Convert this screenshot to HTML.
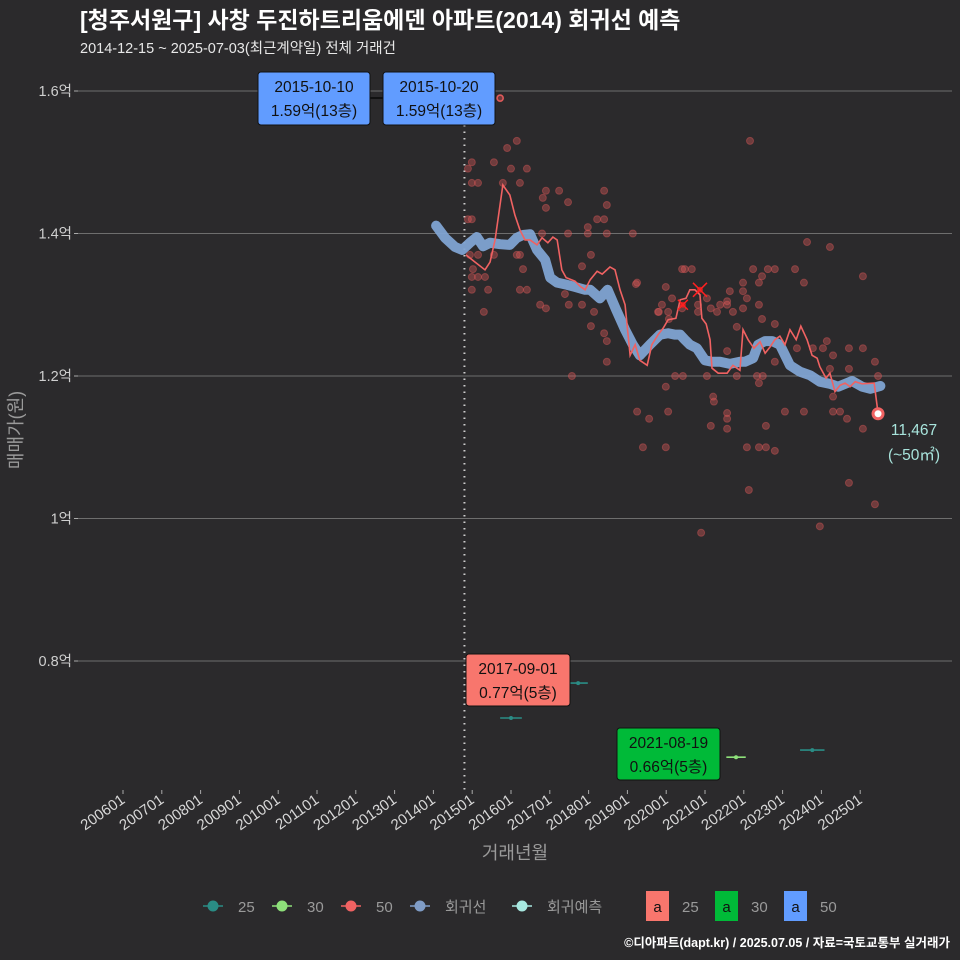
<!DOCTYPE html>
<html><head><meta charset="utf-8">
<style>
html,body{margin:0;padding:0;background:#2b2a2c;}
svg{display:block;font-family:"Liberation Sans","Noto Sans CJK KR",sans-serif;}
</style></head>
<body>
<svg id="chart" width="960" height="960" viewBox="0 0 960 960">
<rect width="960" height="960" fill="#2b2a2c"/>
<text x="80" y="28" fill="#ffffff" font-size="23" font-weight="bold">[청주서원구] 사창 두진하트리움에덴 아파트(2014) 회귀선 예측</text>
<text x="80" y="53" fill="#e8e8e8" font-size="14.5">2014-12-15 ~ 2025-07-03(최근계약일) 전체 거래건</text>
<g id="grid"></g>
<g id="xaxis"></g>
<g id="marks"></g>
<text x="515" y="859" fill="#9a9a9a" font-size="18" text-anchor="middle">거래년월</text>
<text transform="translate(22,430) rotate(-90)" fill="#9a9a9a" font-size="18" text-anchor="middle">매매가(원)</text>
<g id="legend"></g>
<text x="950" y="947" fill="#ffffff" font-size="12.5" font-weight="bold" text-anchor="end">©디아파트(dapt.kr) / 2025.07.05 / 자료=국토교통부 실거래가</text>
</svg>
<script>
const yTicks=[1.6,1.4,1.2,1.0,0.8];
const yTickLabels=["1.6억","1.4억","1.2억","1억","0.8억"];
const xTickYears=[2006,2007,2008,2009,2010,2011,2012,2013,2014,2015,2016,2017,2018,2019,2020,2021,2022,2023,2024,2025];
const xTickLabels=["200601","200701","200801","200901","201001","201101","201201","201301","201401","201501","201601","201701","201801","201901","202001","202101","202201","202301","202401","202501"];
const dots50=[[2015.72,1.59],[2014.99,1.50],[2014.89,1.491],[2014.99,1.471],[2015.15,1.471],[2015.56,1.50],[2015.90,1.52],[2016.15,1.53],[2016.00,1.491],[2016.41,1.491],[2015.79,1.471],[2016.23,1.471],[2016.90,1.46],[2016.82,1.45],[2016.90,1.436],[2017.24,1.46],[2017.47,1.444],[2018.40,1.46],[2018.47,1.44],[2018.22,1.42],[2018.40,1.42],[2017.98,1.409],[2014.89,1.42],[2014.99,1.42],[2017.47,1.40],[2017.98,1.40],[2018.47,1.40],[2019.14,1.40],[2016.80,1.40],[2014.94,1.37],[2015.15,1.37],[2015.56,1.37],[2016.15,1.37],[2016.23,1.37],[2018.06,1.37],[2015.02,1.35],[2016.31,1.35],[2017.83,1.354],[2014.99,1.339],[2015.15,1.339],[2015.33,1.339],[2014.99,1.321],[2015.41,1.321],[2016.23,1.321],[2016.41,1.321],[2015.30,1.29],[2016.75,1.30],[2016.90,1.295],[2017.39,1.315],[2017.49,1.30],[2017.83,1.30],[2018.14,1.29],[2018.06,1.27],[2018.40,1.26],[2018.47,1.249],[2018.47,1.22],[2019.22,1.329],[2019.99,1.325],[2020.15,1.309],[2019.89,1.30],[2019.81,1.29],[2020.05,1.29],[2020.07,1.28],[2020.41,1.35],[2020.48,1.35],[2020.66,1.35],[2020.41,1.295],[2020.82,1.30],[2021.05,1.309],[2021.15,1.295],[2020.82,1.29],[2021.31,1.29],[2017.57,1.20],[2019.99,1.185],[2020.23,1.20],[2020.43,1.20],[2021.05,1.20],[2021.21,1.171],[2023.63,1.388],[2024.22,1.381],[2022.24,1.35],[2022.62,1.35],[2022.80,1.35],[2023.32,1.35],[2025.07,1.34],[2022.47,1.34],[2019.25,1.331],[2021.98,1.331],[2022.39,1.331],[2023.55,1.331],[2021.64,1.319],[2021.98,1.319],[2022.08,1.309],[2021.57,1.305],[2021.57,1.30],[2021.39,1.30],[2022.39,1.30],[2019.79,1.29],[2021.72,1.29],[2021.98,1.295],[2022.47,1.28],[2021.82,1.269],[2022.80,1.273],[2024.14,1.249],[2021.57,1.235],[2023.37,1.239],[2023.78,1.239],[2024.04,1.239],[2024.71,1.239],[2025.07,1.239],[2024.30,1.229],[2022.80,1.22],[2025.38,1.22],[2024.22,1.21],[2024.71,1.21],[2021.82,1.20],[2022.34,1.20],[2022.49,1.20],[2025.46,1.20],[2022.39,1.19],[2024.30,1.171],[2021.23,1.164],[2019.25,1.15],[2020.05,1.15],[2023.06,1.15],[2023.55,1.15],[2024.30,1.15],[2024.48,1.15],[2019.56,1.14],[2024.66,1.14],[2021.57,1.148],[2021.57,1.14],[2021.57,1.126],[2021.15,1.13],[2022.57,1.13],[2025.07,1.126],[2019.40,1.10],[2019.99,1.10],[2022.08,1.10],[2022.39,1.10],[2022.57,1.10],[2022.80,1.095],[2022.13,1.04],[2024.71,1.05],[2025.38,1.02],[2023.96,0.989],[2020.90,0.98],[2022.16,1.53]];
const maDates=[2014.84,2015.07,2015.33,2015.46,2015.59,2015.79,2015.97,2016.10,2016.23,2016.36,2016.49,2016.67,2016.80,2016.95,2017.08,2017.19,2017.31,2017.42,2017.65,2017.78,2017.91,2018.04,2018.22,2018.35,2018.55,2018.68,2018.81,2018.94,2019.07,2019.20,2019.32,2019.51,2019.63,2019.79,2019.92,2020.05,2020.25,2020.36,2020.51,2020.61,2020.74,2020.87,2020.92,2021.03,2021.13,2021.18,2021.34,2021.57,2021.72,2021.90,2021.98,2022.11,2022.26,2022.42,2022.55,2022.68,2022.80,2022.93,2023.06,2023.19,2023.35,2023.47,2023.63,2023.76,2023.89,2023.96,2024.12,2024.22,2024.35,2024.48,2024.61,2024.74,2024.87,2025.05,2025.36,2025.46];
const maValues=[1.370,1.360,1.349,1.360,1.391,1.468,1.454,1.426,1.405,1.391,1.391,1.384,1.394,1.387,1.395,1.391,1.349,1.338,1.333,1.326,1.321,1.335,1.347,1.343,1.353,1.349,1.321,1.300,1.229,1.244,1.222,1.215,1.244,1.258,1.267,1.279,1.281,1.307,1.309,1.321,1.321,1.314,1.281,1.273,1.251,1.211,1.204,1.204,1.215,1.208,1.265,1.251,1.239,1.248,1.232,1.241,1.251,1.256,1.244,1.265,1.251,1.270,1.251,1.229,1.225,1.213,1.197,1.204,1.178,1.187,1.190,1.185,1.192,1.189,1.190,1.148];
const regDates=[2014.07,2014.30,2014.56,2014.74,2014.94,2015.12,2015.28,2015.46,2015.72,2015.97,2016.15,2016.31,2016.49,2016.67,2016.88,2017.01,2017.19,2017.44,2017.65,2017.91,2018.04,2018.29,2018.49,2018.71,2018.94,2019.14,2019.32,2019.58,2019.84,2020.05,2020.23,2020.36,2020.48,2020.61,2020.79,2021.00,2021.18,2021.39,2021.64,2021.90,2022.03,2022.24,2022.37,2022.55,2022.73,2022.93,2023.19,2023.45,2023.71,2023.96,2024.22,2024.43,2024.61,2024.79,2025.05,2025.26,2025.52];
const regValues=[1.411,1.394,1.381,1.377,1.387,1.395,1.382,1.387,1.385,1.384,1.394,1.398,1.399,1.377,1.363,1.338,1.331,1.328,1.325,1.321,1.321,1.309,1.321,1.293,1.265,1.244,1.229,1.244,1.258,1.260,1.258,1.258,1.251,1.244,1.239,1.222,1.220,1.220,1.217,1.220,1.220,1.225,1.244,1.249,1.249,1.244,1.215,1.206,1.201,1.192,1.189,1.185,1.189,1.193,1.185,1.182,1.186];
const seg25=[[2015.72,2016.28,0.72],[2017.48,2017.98,0.769],[2023.45,2024.08,0.675]];
const seg30=[[2021.55,2022.05,0.665]];
const xMarks=[[2020.87,1.321],[2020.43,1.30]];
const lastPoint=[2025.46,1.147];
const firstDate=2014.80;

const NS="http://www.w3.org/2000/svg";
const X0=123,XS=38.8,PL=78,PR=952,PT=70,PB=790;
function xs(t){return X0+(t-2006)*XS;}
function ys(v){return 91+(1.6-v)*712.5;}
function mk(tag,attrs,parent){const e=document.createElementNS(NS,tag);for(const k in attrs)e.setAttribute(k,attrs[k]);parent.appendChild(e);return e;}
const grid=document.getElementById('grid'),xa=document.getElementById('xaxis'),marks=document.getElementById('marks'),lg=document.getElementById('legend');

yTicks.forEach((v,i)=>{
 const l=mk('line',{x1:PL,x2:PR,y1:ys(v),y2:ys(v),stroke:'#6e6e6e','stroke-width':1},grid);
 
 
 const t=mk('line',{x1:PL-4,x2:PL,y1:ys(v),y2:ys(v),stroke:'#aaa'},grid);
 
 
 const tx=mk('text',{x:PL-6,y:ys(v)+5,fill:'#cfcfcf','font-size':14.5,'text-anchor':'end'},grid);
 tx.textContent=yTickLabels[i];
 
 
});
xTickYears.forEach((y,i)=>{
 const x=xs(y);
 const t=mk('line',{x1:x,x2:x,y1:PB,y2:PB+4,stroke:'#aaa'},xa);
 
 
 const tx=mk('text',{transform:`translate(${x+3},${PB+12}) rotate(-35)`,fill:'#d8d8d8','font-size':15,'text-anchor':'end'},xa);
 tx.textContent=xTickLabels[i];
 
 
});
const dl=mk('line',{x1:xs(firstDate),x2:xs(firstDate),y1:PT+55,y2:PB,stroke:'#cccccc','stroke-width':2,'stroke-dasharray':'1.5 5'},marks);


dots50.forEach(d=>{
 const c=mk('circle',{cx:xs(d[0]),cy:ys(d[1]),r:3.5,fill:'#e05a5a','fill-opacity':0.38,stroke:'#e05a5a','stroke-opacity':0.4},marks);
 
 
});
const rp=regDates.map((d,i)=>xs(d)+','+ys(regValues[i])).join(' ');
const reg=mk('polyline',{points:rp,fill:'none',stroke:'#7fa3d2','stroke-width':10,'stroke-linejoin':'round','stroke-linecap':'round','stroke-opacity':0.95},marks);


const mp=maDates.map((d,i)=>xs(d)+','+ys(maValues[i])).join(' ');
const ma=mk('polyline',{points:mp,fill:'none',stroke:'#f06262','stroke-width':1.6},marks);


xMarks.forEach((m,i)=>{
 const s=i==0?7:5,x=xs(m[0]),y=ys(m[1]);
 const p=mk('path',{d:`M${x-s},${y-s}L${x+s},${y+s}M${x-s},${y+s}L${x+s},${y-s}`,stroke:'#ff2020','stroke-width':1.5},marks);
 
 
 const c=mk('circle',{cx:x,cy:y,r:3,fill:'#ff2020','fill-opacity':0.7},marks);
 
 
});
seg25.forEach(s=>{
 const l=mk('line',{x1:xs(s[0]),x2:xs(s[1]),y1:ys(s[2]),y2:ys(s[2]),stroke:'#2a8c85','stroke-width':1.6},marks);
 
 
 const c=mk('circle',{cx:(xs(s[0])+xs(s[1]))/2,cy:ys(s[2]),r:2,fill:'#2a8c85'},marks);
 
 
});
seg30.forEach(s=>{
 const l=mk('line',{x1:xs(s[0]),x2:xs(s[1]),y1:ys(s[2]),y2:ys(s[2]),stroke:'#8ee07a','stroke-width':1.6},marks);
 
 
 const c=mk('circle',{cx:(xs(s[0])+xs(s[1]))/2,cy:ys(s[2]),r:2,fill:'#8ee07a'},marks);
 
 
});
const lp=mk('circle',{cx:xs(lastPoint[0]),cy:ys(lastPoint[1]),r:5,fill:'#ffffff',stroke:'#f06262','stroke-width':3},marks);


const l1=mk('text',{x:914,y:435,fill:'#a8e4dc','font-size':15.5,'text-anchor':'middle'},marks);l1.textContent='11,467';


const l2=mk('text',{x:914,y:460,fill:'#a8e4dc','font-size':15.5,'text-anchor':'middle'},marks);l2.textContent='(~50㎡)';


const cn=mk('line',{x1:370,x2:383,y1:98,y2:98,stroke:'#111','stroke-width':2},marks);


const ring=mk('circle',{cx:xs(2015.72),cy:ys(1.59),r:3,fill:'none',stroke:'#e05a5a','stroke-width':1.5},marks);


function box(x,y,w,h,fill,l1t,l2t,name){
 const g=mk('g',{},marks);
 
 
 mk('rect',{x:x,y:y,width:w,height:h,rx:3,fill:fill,stroke:'#111','stroke-width':1},g);
 const a=mk('text',{x:x+w/2,y:y+20,fill:'#111','font-size':15.5,'text-anchor':'middle'},g);a.textContent=l1t;
 const b=mk('text',{x:x+w/2,y:y+44,fill:'#111','font-size':15.5,'text-anchor':'middle'},g);b.textContent=l2t;
}
box(258,72,112,53,'#619cff','2015-10-10','1.59억(13층)','annotation-max-1');
box(383,72,112,53,'#619cff','2015-10-20','1.59억(13층)','annotation-max-2');
box(466,654,104,52,'#f8766d','2017-09-01','0.77억(5층)','annotation-min-25');
box(617,728,103,52,'#00ba38','2021-08-19','0.66억(5층)','annotation-min-30');
const legItems=[['#2a8c85','25'],['#8ee07a','30'],['#f06262','50'],['#7f9cc6','회귀선'],['#a8e8e0','회귀예측']];
let lx=203;
legItems.forEach(it=>{
 const g=mk('g',{},lg);
 
 
 mk('line',{x1:lx,x2:lx+20,y1:906,y2:906,stroke:it[0],'stroke-width':1.5},g);
 mk('circle',{cx:lx+10,cy:906,r:5.5,fill:it[0]},g);
 const t=mk('text',{x:lx+35,y:912,fill:'#9a9a9a','font-size':15},g);t.textContent=it[1];
 lx+=35+(it[1].length>2?it[1].length*15+22:34);
});
const boxItems=[['#f8766d','25',646],['#00ba38','30',715],['#619cff','50',784]];
boxItems.forEach(it=>{
 const g=mk('g',{},lg);
 
 
 mk('rect',{x:it[2],y:891,width:23,height:30,fill:it[0]},g);
 const a=mk('text',{x:it[2]+11.5,y:912,fill:'#111','font-size':15,'text-anchor':'middle'},g);a.textContent='a';
 const t=mk('text',{x:it[2]+36,y:912,fill:'#9a9a9a','font-size':15},g);t.textContent=it[1];
});
</script>
</body></html>
